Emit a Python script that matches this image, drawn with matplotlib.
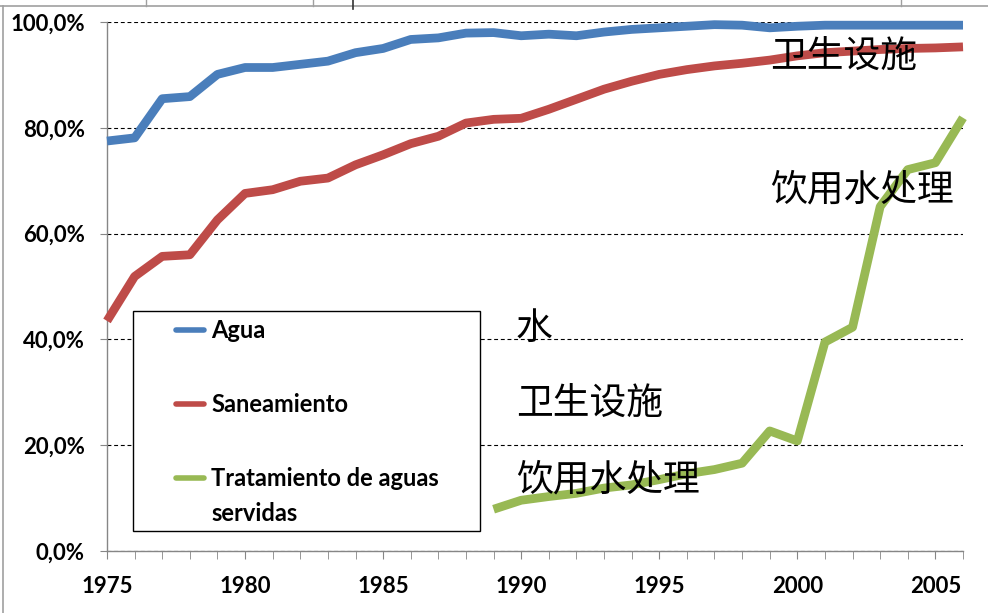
import matplotlib
matplotlib.use('Agg')
import matplotlib.pyplot as plt
from matplotlib.lines import Line2D
from matplotlib.patches import Rectangle

# data (percent)
years = list(range(1975, 2007))
agua = [77.5, 78.1, 85.5, 85.9, 90.1, 91.4, 91.4, 92.0, 92.6, 94.2,
        95.0, 96.7, 97.0, 97.9, 98.0, 97.4, 97.7, 97.4, 98.1, 98.6,
        98.9, 99.2, 99.5, 99.4, 98.9, 99.2, 99.4, 99.4, 99.4, 99.4,
        99.4, 99.4]
saneamiento = [43.5, 51.9, 55.7, 56.0, 62.6, 67.6, 68.3, 69.9, 70.5, 73.0,
               74.9, 77.0, 78.4, 80.9, 81.6, 81.8, 83.5, 85.4, 87.3, 88.8,
               90.1, 91.0, 91.7, 92.2, 92.8, 93.6, 94.2, 94.5, 94.8, 95.0,
               95.1, 95.3]
trat_years = list(range(1989, 2007))
tratamiento = [7.9, 9.6, 10.3, 10.9, 11.9, 12.5, 13.5, 14.6, 15.4, 16.6,
               22.7, 20.8, 39.5, 42.3, 65.1, 72.1, 73.4, 81.9]

series_names = ['Agua', 'Saneamiento', 'Tratamiento de aguas']
colors = ['#4A7EBB', '#BE4B48', '#98B954']

y_ticks = [0, 20, 40, 60, 80, 100]
y_labels = ['0,0%', '20,0%', '40,0%', '60,0%', '80,0%', '100,0%']
x_ticks = [1975, 1980, 1985, 1990, 1995, 2000, 2005]

# chinese notes: (text, x year, y percent)
notes = [('卫生设施', 1999.0, 93.6),
         ('饮用水处理', 1999.0, 68.2),
         ('水', 1989.8, 42.0),
         ('卫生设施', 1989.8, 27.9),
         ('饮用水处理', 1989.8, 13.4)]

tick_font = {'family': 'Lato', 'weight': 'bold', 'size': 16}
leg_font = {'family': 'Lato', 'weight': 'bold', 'size': 17}
cjk = ['Noto Sans CJK SC', 'DejaVu Sans']

fig = plt.figure(figsize=(9.88, 6.13), dpi=100)
ax = fig.add_axes([0.1083, 0.1011, 0.8664, 0.8630])

lines = []
for ys, xs, c in [(agua, years, colors[0]), (saneamiento, years, colors[1]),
                  (tratamiento, trat_years, colors[2])]:
    ln, = ax.plot(xs, ys, color=c, lw=6.3, solid_capstyle='butt',
                  solid_joinstyle='round', clip_on=False, zorder=3)
    lines.append(ln)

ax.set_xlim(1975, 2006)
ax.set_ylim(0, 100)

ax.set_yticks(y_ticks)
ax.set_yticklabels(y_labels, fontdict=tick_font)
ax.set_xticks(x_ticks)
ax.set_xticklabels([str(y) for y in x_ticks], fontdict=tick_font)
ax.set_xticks(years, minor=True)
ax.tick_params(axis='x', which='both', direction='out', length=6,
               color='#868686', pad=12)
ax.tick_params(axis='y', direction='out', length=5, color='#868686', pad=11)

ax.yaxis.grid(True, linestyle=(0, (3.5, 2.5)), color='black', lw=0.8)
ax.set_axisbelow(True)
for s in ['top', 'right']:
    ax.spines[s].set_visible(False)
for s in ['left', 'bottom']:
    ax.spines[s].set_color('#868686')
    ax.spines[s].set_linewidth(1)

# legend box
box = Rectangle((0.0304, 0.0378), 0.4053, 0.4159, transform=ax.transAxes,
                facecolor='white', edgecolor='black', lw=1.0, zorder=4)
ax.add_patch(box)
leg = ax.legend(lines, series_names, loc='upper left',
                bbox_to_anchor=(0.0806, 0.438), frameon=False,
                borderpad=0, borderaxespad=0, handlelength=1.2,
                handletextpad=0.3, labelspacing=2.15, prop=leg_font)
leg.set_zorder(5)
for h in leg.get_lines():
    h.set_linewidth(4)
    h.set_solid_capstyle('round')

fig.canvas.draw()
tb = leg.get_texts()[2].get_window_extent()
inv = ax.transAxes.inverted()
x0, yc = inv.transform((tb.x0, (tb.y0 + tb.y1) / 2 - 35))
ax.text(x0, yc, 'servidas', transform=ax.transAxes, va='center',
        ha='left', zorder=6, **leg_font)

for txt, xv, yv in notes:
    ax.text(xv, yv, txt, family=cjk, fontsize=26.5, color='black',
            va='center', ha='left', zorder=6)

# frame pieces from the source page
fig.add_artist(Line2D([0, 1], [1 - 5.5 / 613] * 2, color='#a0a0a0', lw=1.2))
fig.add_artist(Line2D([3 / 988] * 2, [0, 1 - 5.5 / 613], color='#a0a0a0', lw=1.2))
for px in [146, 313, 901]:
    fig.add_artist(Line2D([px / 988] * 2, [1, 1 - 5.5 / 613], color='#a0a0a0', lw=1))
fig.add_artist(Line2D([353 / 988] * 2, [1, 1 - 9 / 613], color='#333333', lw=1.2))

fig.savefig('out.png', dpi=100)
